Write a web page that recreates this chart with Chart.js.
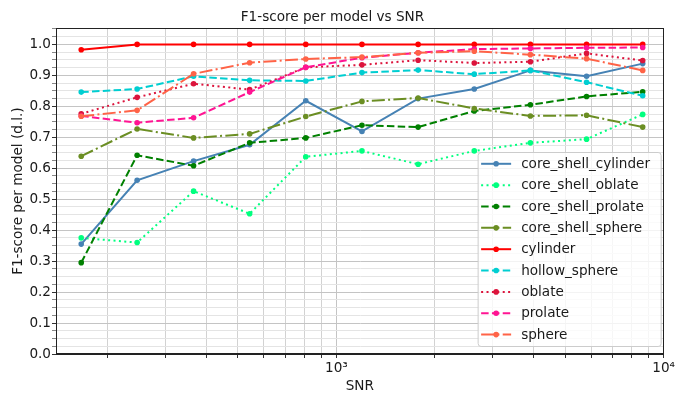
<!DOCTYPE html>
<html><head><meta charset="utf-8">
<script src="https://cdn.jsdelivr.net/npm/chart.js@4/dist/chart.umd.min.js"></script>
<style>html,body{margin:0;padding:0;background:#fff}</style>
</head><body>
<canvas id="c" width="677" height="393"></canvas>
<script>
// ---- data ----
const SNR = [166, 246, 366, 543, 806, 1197, 1777, 2638, 3916, 5814, 8630];
const modelNames = ['core_shell_cylinder','core_shell_oblate','core_shell_prolate','core_shell_sphere','cylinder','hollow_sphere','oblate','prolate','sphere'];
const coreShellCylinder = [0.355, 0.561, 0.623, 0.676, 0.818, 0.719, 0.825, 0.856, 0.916, 0.897, 0.938];
const coreShellOblate   = [0.375, 0.360, 0.526, 0.453, 0.637, 0.656, 0.613, 0.656, 0.682, 0.694, 0.774];
const coreShellProlate  = [0.295, 0.642, 0.608, 0.682, 0.698, 0.739, 0.733, 0.785, 0.805, 0.832, 0.847];
const coreShellSphere   = [0.639, 0.727, 0.698, 0.711, 0.767, 0.816, 0.827, 0.793, 0.769, 0.771, 0.733];
const cylinder          = [0.983, 1.000, 1.000, 1.000, 1.000, 1.000, 1.000, 1.000, 1.000, 1.000, 1.000];
const hollowSphere      = [0.846, 0.856, 0.897, 0.884, 0.882, 0.909, 0.917, 0.904, 0.916, 0.878, 0.834];
const oblate            = [0.776, 0.829, 0.873, 0.854, 0.926, 0.934, 0.949, 0.940, 0.944, 0.971, 0.948];
const prolate           = [0.769, 0.747, 0.763, 0.846, 0.926, 0.957, 0.973, 0.985, 0.987, 0.989, 0.990];
const sphere            = [0.768, 0.787, 0.905, 0.941, 0.953, 0.959, 0.973, 0.978, 0.967, 0.954, 0.916];
const seriesValues = [coreShellCylinder, coreShellOblate, coreShellProlate, coreShellSphere, cylinder, hollowSphere, oblate, prolate, sphere];
const xTickValues = [200,300,400,500,600,700,800,900,1000,2000,3000,4000,5000,6000,7000,8000,9000,10000];
const xTickLabels = {1000: '10\u00b3', 10000: '10\u2074'};

// ---- styles ----
const DOT = [2, 3.4], DASH = [7.5, 3.3], DASHDOT = [13, 3.3, 2, 3.3];
const colors = ['#4682b4','#00ff7f','#008000','#6b8e23','#ff0000','#00ced1','#dc143c','#ff1493','#ff6347'];
const dashes = [[], DOT, DASH, DASHDOT, [], DASH, DOT, DASH, DASHDOT];

const FONT = 'DejaVu Sans';
const FS = 13.6;

const datasets = modelNames.map((name, i) => ({
  label: name,
  data: SNR.map((x, k) => ({x: x, y: seriesValues[i][k]})),
  borderColor: colors[i],
  backgroundColor: colors[i],
  borderWidth: 2,
  borderDash: dashes[i],
  borderCapStyle: 'butt',
  pointRadius: 2.8,
  pointBorderWidth: 0,
  pointHoverRadius: 2.8,
  tension: 0,
  fill: false,
  order: modelNames.length - 1 - i
}));

const frame = {
  id: 'frame',
  afterDraw(chart) {
    const a = chart.chartArea, ctx = chart.ctx;
    ctx.save();
    ctx.strokeStyle = '#222';
    ctx.lineWidth = 1;
    ctx.strokeRect(Math.round(a.left) + 0.5, Math.round(a.top) + 0.5, Math.round(a.right - a.left) - 1, Math.round(a.bottom - a.top) - 1);
    ctx.restore();
  }
};

const insideLegend = {
  id: 'insideLegend',
  afterDraw(chart) {
    const a = chart.chartArea, ctx = chart.ctx;
    const w = 183, h = 194;
    const x0 = a.right - 2.5 - w, y0 = a.bottom - 7.5 - h;
    ctx.save();
    ctx.beginPath();
    const r = 3;
    ctx.moveTo(x0 + r, y0);
    ctx.arcTo(x0 + w, y0, x0 + w, y0 + h, r);
    ctx.arcTo(x0 + w, y0 + h, x0, y0 + h, r);
    ctx.arcTo(x0, y0 + h, x0, y0, r);
    ctx.arcTo(x0, y0, x0 + w, y0, r);
    ctx.closePath();
    ctx.fillStyle = 'rgba(255,255,255,0.8)';
    ctx.fill();
    ctx.strokeStyle = '#cccccc';
    ctx.lineWidth = 1;
    ctx.stroke();
    chart.data.datasets.forEach((ds, i) => {
      const y = y0 + 11.3 + i * 21.35;
      ctx.beginPath();
      ctx.setLineDash(ds.borderDash);
      ctx.lineCap = 'butt';
      ctx.strokeStyle = ds.borderColor;
      ctx.lineWidth = ds.borderWidth;
      ctx.moveTo(x0 + 3, y);
      ctx.lineTo(x0 + 33, y);
      ctx.stroke();
      ctx.setLineDash([]);
      ctx.beginPath();
      ctx.fillStyle = ds.borderColor;
      ctx.arc(x0 + 18, y, 2.8, 0, Math.PI * 2);
      ctx.fill();
      ctx.fillStyle = '#1a1a1a';
      ctx.font = FS + 'px "' + FONT + '"';
      ctx.textBaseline = 'middle';
      ctx.textAlign = 'left';
      ctx.fillText(ds.label, x0 + 43, y + 0.5);
    });
    ctx.restore();
  }
};

new Chart(document.getElementById('c'), {
  type: 'line',
  data: { datasets: datasets },
  plugins: [frame, insideLegend],
  options: {
    responsive: false,
    devicePixelRatio: 1,
    animation: false,
    layout: { padding: { left: 0, right: 12, top: 0, bottom: 0 } },
    plugins: {
      legend: { display: false },
      tooltip: { enabled: false },
      title: {
        display: true,
        text: 'F1-score per model vs SNR',
        color: '#1a1a1a',
        font: { family: FONT, size: FS, weight: 'normal' },
        padding: { top: 9, bottom: 3 }
      }
    },
    scales: {
      x: {
        type: 'logarithmic',
        min: 139,
        max: 10000,
        afterBuildTicks: (scale) => { scale.ticks = xTickValues.map(v => ({value: v, major: !!xTickLabels[v]})); },
        afterFit: (scale) => { scale.height = 39; },
        ticks: {
          autoSkip: false,
          maxRotation: 0,
          padding: 2,
          color: '#1a1a1a',
          font: { family: FONT, size: FS },
          callback: (v) => xTickLabels[v] || ''
        },
        grid: {
          color: (c) => (c.tick && xTickLabels[c.tick.value]) ? '#c4c4c4' : '#d2d2d2',
          tickColor: '#333',
          tickLength: 4,
          lineWidth: 1
        },
        border: { color: '#222' },
        title: {
          display: true,
          text: 'SNR',
          color: '#1a1a1a',
          font: { family: FONT, size: FS },
          padding: { top: 0, bottom: -2 }
        }
      },
      y: {
        type: 'linear',
        min: 0,
        max: 1.052,
        afterBuildTicks: (scale) => {
          const t = [];
          for (let i = 0; i <= 42; i++) t.push({value: +(i * 0.025).toFixed(3), major: i % 4 === 0});
          scale.ticks = t;
        },
        afterFit: (scale) => { scale.width = 56; },
        ticks: {
          autoSkip: false,
          padding: 1,
          color: '#1a1a1a',
          font: { family: FONT, size: FS },
          callback: function (v) {
            const k = Math.round(v / 0.025);
            return k % 4 === 0 ? (v).toFixed(1) : '';
          }
        },
        grid: {
          color: (c) => (c.tick && Math.round(c.tick.value / 0.025) % 4 === 0) ? '#c4c4c4' : '#e4e4e4',
          tickColor: (c) => (c.tick && Math.round(c.tick.value / 0.025) % 4 === 0) ? '#333' : '#888',
          tickLength: 4,
          lineWidth: 1
        },
        border: { color: '#222' },
        title: {
          display: true,
          text: 'F1-score per model (d.l.)',
          color: '#1a1a1a',
          font: { family: FONT, size: FS },
          padding: { top: 10, bottom: 0 }
        }
      }
    }
  }
});
</script>
</body></html>
